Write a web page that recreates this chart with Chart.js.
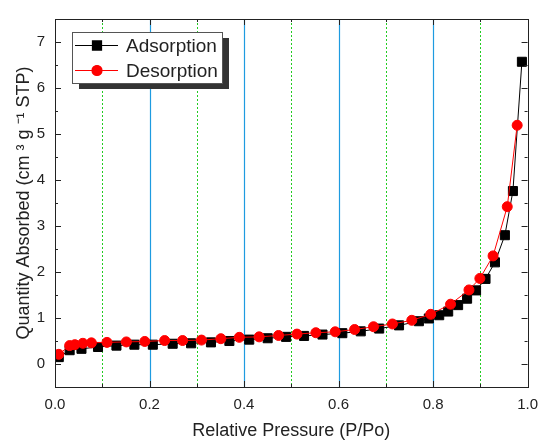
<!DOCTYPE html>
<html>
<head>
<meta charset="utf-8">
<script src="https://cdn.jsdelivr.net/npm/chart.js@4.4.1/dist/chart.umd.min.js"></script>
<style>
  html, body { margin: 0; padding: 0; background: #fff; }
</style>
</head>
<body>
<canvas id="chart" width="547" height="442"></canvas>
<script>
// values
const adsorptionP = [0.008, 0.031, 0.056, 0.091, 0.130, 0.168, 0.207, 0.249, 0.288, 0.330, 0.369, 0.411, 0.450, 0.489, 0.527, 0.566, 0.608, 0.647, 0.686, 0.728, 0.770, 0.791, 0.813, 0.832, 0.853, 0.872, 0.891, 0.911, 0.931, 0.952, 0.969, 0.988];
const adsorptionQ = [0.15, 0.30, 0.33, 0.37, 0.40, 0.42, 0.42, 0.44, 0.45, 0.47, 0.50, 0.53, 0.56, 0.59, 0.61, 0.64, 0.67, 0.71, 0.77, 0.84, 0.93, 0.99, 1.06, 1.14, 1.28, 1.42, 1.60, 1.85, 2.21, 2.80, 3.76, 6.57];

const desorptionP = [0.008, 0.031, 0.042, 0.059, 0.077, 0.110, 0.151, 0.190, 0.232, 0.270, 0.310, 0.351, 0.390, 0.432, 0.473, 0.512, 0.552, 0.593, 0.634, 0.674, 0.714, 0.755, 0.795, 0.837, 0.876, 0.899, 0.927, 0.957, 0.978];
const desorptionQ = [0.21, 0.40, 0.42, 0.45, 0.46, 0.47, 0.48, 0.49, 0.51, 0.51, 0.52, 0.55, 0.58, 0.59, 0.62, 0.65, 0.68, 0.70, 0.75, 0.81, 0.87, 0.95, 1.08, 1.30, 1.61, 1.86, 2.35, 3.42, 5.19];

const xTicks = [0.0, 0.2, 0.4, 0.6, 0.8, 1.0];
const yTicks = [0, 1, 2, 3, 4, 5, 6, 7];
const xGrid = [0.1, 0.2, 0.3, 0.4, 0.5, 0.6, 0.7, 0.8, 0.9];

const textColor = '#222';
const fontFamily = '"Liberation Sans", Arial, sans-serif';

function toPoints(xs, ys) {
  return xs.map((x, i) => ({ x: x, y: ys[i] }));
}

// vertical grid: blue solid on the labelled ticks, green dotted between
const gridPlugin = {
  id: 'gridLines',
  beforeDatasetsDraw(chart) {
    const { ctx, chartArea, scales } = chart;
    ctx.save();
    xGrid.forEach((v, i) => {
      const px = Math.round(scales.x.getPixelForValue(v)) + 0.5;
      ctx.beginPath();
      if (i % 2 === 1) {
        ctx.strokeStyle = '#1e9be0';
        ctx.setLineDash([]);
        ctx.lineWidth = 1.2;
      } else {
        ctx.strokeStyle = '#22cc22';
        ctx.setLineDash([2, 2]);
        ctx.lineWidth = 1;
      }
      ctx.moveTo(px, chartArea.top);
      ctx.lineTo(px, chartArea.bottom);
      ctx.stroke();
    });
    ctx.restore();
  }
};

// frame with inward ticks on all four sides
const framePlugin = {
  id: 'frame',
  afterDatasetsDraw(chart) {
    const { ctx, chartArea: a, scales } = chart;
    ctx.save();
    ctx.strokeStyle = '#222';
    ctx.lineWidth = 1;
    ctx.setLineDash([]);
    ctx.strokeRect(Math.round(a.left) + 0.5, Math.round(a.top) + 0.5,
      Math.round(a.right - a.left), Math.round(a.bottom - a.top));
    ctx.beginPath();
    for (let v = 0; v <= 10; v++) {
      const px = Math.round(scales.x.getPixelForValue(v / 10)) + 0.5;
      const len = v % 2 === 0 ? 6 : 3;
      ctx.moveTo(px, a.bottom); ctx.lineTo(px, a.bottom - len);
      ctx.moveTo(px, a.top); ctx.lineTo(px, a.top + len);
    }
    for (let v = -0.5; v <= 7.5; v += 0.5) {
      const py = Math.round(scales.y.getPixelForValue(v)) + 0.5;
      const len = Number.isInteger(v) ? 6 : 3;
      ctx.moveTo(a.left, py); ctx.lineTo(a.left + len, py);
      ctx.moveTo(a.right, py); ctx.lineTo(a.right - len, py);
    }
    ctx.stroke();
    ctx.restore();
  }
};

// boxed legend with a drop shadow, line + marker samples
const legendPlugin = {
  id: 'boxLegend',
  afterDraw(chart) {
    const { ctx } = chart;
    const x = 72, y = 32, w = 150, h = 51;
    ctx.save();
    ctx.fillStyle = '#333';
    ctx.fillRect(x + 7, y + 6, w, h);
    ctx.fillStyle = '#fff';
    ctx.fillRect(x, y, w, h);
    ctx.strokeStyle = '#555';
    ctx.lineWidth = 1;
    ctx.strokeRect(x + 0.5, y + 0.5, w, h);
    const rows = [chart.data.datasets[0], chart.data.datasets[1]];
    rows.forEach((ds, i) => {
      const ry = y + 13.5 + i * 25;
      ctx.strokeStyle = ds.borderColor;
      ctx.lineWidth = 1.2;
      ctx.beginPath();
      ctx.moveTo(x + 3, ry);
      ctx.lineTo(x + 46, ry);
      ctx.stroke();
      Chart.helpers.drawPoint(ctx, {
        pointStyle: ds.pointStyle,
        radius: ds.pointRadius,
        borderWidth: 1
      }, x + 25, ry);
      ctx.fillStyle = ds.pointBackgroundColor;
      ctx.fill();
      ctx.fillStyle = textColor;
      ctx.font = '19px ' + fontFamily;
      ctx.textBaseline = 'middle';
      ctx.textAlign = 'left';
      ctx.fillText(ds.label, x + 54, ry + 1);
    });
    ctx.restore();
  }
};

const chart = new Chart(document.getElementById('chart'), {
  type: 'scatter',
  data: {
    datasets: [
      {
        label: 'Adsorption',
        data: toPoints(adsorptionP, adsorptionQ),
        showLine: true,
        borderColor: '#000',
        backgroundColor: '#000',
        pointBackgroundColor: '#000',
        pointBorderColor: '#000',
        pointStyle: 'rect',
        pointRadius: 6.4,
        borderWidth: 1,
        order: 2
      },
      {
        label: 'Desorption',
        data: toPoints(desorptionP, desorptionQ),
        showLine: true,
        borderColor: '#ff0000',
        backgroundColor: '#ff0000',
        pointBackgroundColor: '#ff0000',
        pointBorderColor: '#ff0000',
        pointStyle: 'circle',
        pointRadius: 5,
        borderWidth: 1,
        order: 1
      }
    ]
  },
  options: {
    responsive: false,
    animation: false,
    layout: { padding: { top: 9, right: 19, bottom: 0, left: 0 } },
    plugins: {
      legend: { display: false },
      tooltip: { enabled: false }
    },
    scales: {
      x: {
        type: 'linear',
        min: 0,
        max: 1,
        afterBuildTicks: (scale) => { scale.ticks = xTicks.map(v => ({ value: v })); },
        afterFit: (scale) => { scale.height = 55; },
        grid: { display: false, drawTicks: false },
        border: { display: false },
        ticks: {
          padding: 9,
          color: textColor,
          font: { family: fontFamily, size: 15 },
          callback: (v) => Number(v).toFixed(1)
        },
        title: {
          display: true,
          text: 'Relative Pressure (P/Po)',
          color: textColor,
          font: { family: fontFamily, size: 18 },
          padding: { top: 0, bottom: 0 }
        }
      },
      y: {
        type: 'linear',
        min: -0.5,
        max: 7.5,
        afterBuildTicks: (scale) => { scale.ticks = yTicks.map(v => ({ value: v })); },
        afterFit: (scale) => { scale.width = 55; },
        grid: { display: false, drawTicks: false },
        border: { display: false },
        ticks: {
          padding: 10,
          color: textColor,
          font: { family: fontFamily, size: 15 }
        },
        title: {
          display: true,
          text: 'Quantity Absorbed (cm ³ g ⁻¹ STP)',
          color: textColor,
          font: { family: fontFamily, size: 18 },
          padding: { top: 13, bottom: 0 }
        }
      }
    }
  },
  plugins: [gridPlugin, framePlugin, legendPlugin]
});
</script>
</body>
</html>
